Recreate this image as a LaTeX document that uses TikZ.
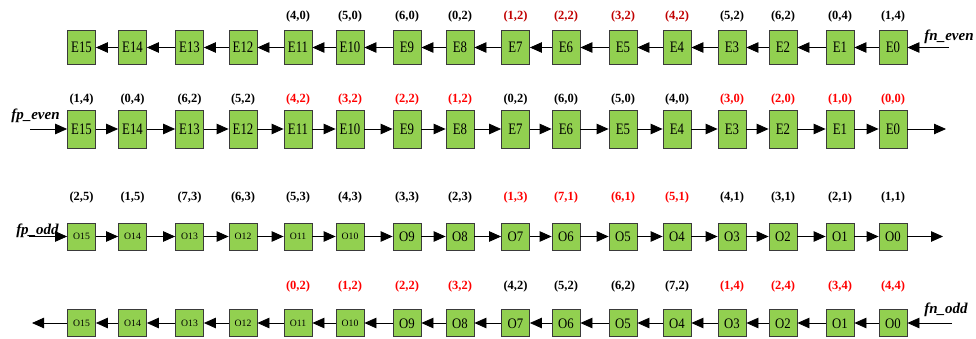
\documentclass[tikz,border=0pt]{standalone}
\usepackage{fontspec}
\setmainfont{Liberation Serif}
\usetikzlibrary{arrows.meta}
\definecolor{boxgreen}{HTML}{92D050}
\definecolor{boxline}{HTML}{3A3A3A}
\definecolor{dred}{HTML}{C00000}
\definecolor{bred}{HTML}{FF0000}
\newcommand{\etxt}[1]{\scalebox{0.8}[1]{#1}}
\newcommand{\otxt}[1]{\scalebox{0.88}[1]{#1}}
\tikzset{
  box/.style={draw=boxline, fill=boxgreen, line width=0.8pt, minimum width=28pt, inner sep=0pt},
  ebox/.style={box, minimum height=34pt, font=\fontsize{16}{16}\selectfont, text height=11pt, text depth=0pt},
  ebox2/.style={box, minimum height=38pt, font=\fontsize{16}{16}\selectfont, text height=11pt, text depth=0pt},
  obox/.style={box, minimum height=27pt, font=\fontsize{14.5}{14.5}\selectfont, text height=10pt, text depth=0pt},
  smallo/.style={font=\fontsize{9.7}{9.7}\selectfont, text height=6.7pt},
  lbl/.style={font=\fontsize{12.5}{12.5}\selectfont\bfseries, inner sep=0pt},
  sig/.style={font=\fontsize{15}{15}\selectfont\bfseries\itshape, inner sep=0pt},
  arr/.style={line width=0.8pt, -{Triangle[length=12pt,width=10.5pt]}},
}
\begin{document}
\begin{tikzpicture}[x=1pt,y=1pt]
\useasboundingbox (0,0) rectangle (976,338);
% nodes
\foreach \i/\x in {0/893,1/840,2/783,3/732,4/677,5/623,6/566,7/515.5,8/460,9/407,10/350,11/298,12/243,13/189.5,14/132.5,15/81.5}{
  \node[ebox]  (a\i) at (\x,290.5) {\etxt{E\i}};
  \node[ebox2] (b\i) at (\x,209) {\etxt{E\i}};
}
\foreach \i/\x in {0/893,1/840,2/783,3/732,4/677,5/623,6/566,7/515.5,8/460,9/407}{
  \node[obox] (c\i) at (\x,101.5) {\otxt{O\i}};
  \node[obox] (d\i) at (\x,15) {\otxt{O\i}};
}
\foreach \i/\x in {10/350,11/298,12/243,13/189.5,14/132.5,15/81.5}{
  \node[obox,smallo] (c\i) at (\x,101.5) {O\i};
  \node[obox,smallo] (d\i) at (\x,15) {O\i};
}
% labels row 1
\foreach \i/\l/\c in {0/{(1,4)}/black,1/{(0,4)}/black,2/{(6,2)}/black,3/{(5,2)}/black,4/{(4,2)}/dred,5/{(3,2)}/dred,6/{(2,2)}/dred,7/{(1,2)}/dred,8/{(0,2)}/black,9/{(6,0)}/black,10/{(5,0)}/black,11/{(4,0)}/black}{
  \node[lbl,text=\c] (la\i) at (a\i |- 0,322) {\l};
}
% labels row 2
\foreach \i/\l/\c in {0/{(0,0)}/bred,1/{(1,0)}/bred,2/{(2,0)}/bred,3/{(3,0)}/bred,4/{(4,0)}/black,5/{(5,0)}/black,6/{(6,0)}/black,7/{(0,2)}/black,8/{(1,2)}/bred,9/{(2,2)}/bred,10/{(3,2)}/bred,11/{(4,2)}/bred,12/{(5,2)}/black,13/{(6,2)}/black,14/{(0,4)}/black,15/{(1,4)}/black}{
  \node[lbl,text=\c] (lb\i) at (b\i |- 0,239) {\l};
}
% labels row 3
\foreach \i/\l/\c in {0/{(1,1)}/black,1/{(2,1)}/black,2/{(3,1)}/black,3/{(4,1)}/black,4/{(5,1)}/bred,5/{(6,1)}/bred,6/{(7,1)}/bred,7/{(1,3)}/bred,8/{(2,3)}/black,9/{(3,3)}/black,10/{(4,3)}/black,11/{(5,3)}/black,12/{(6,3)}/black,13/{(7,3)}/black,14/{(1,5)}/black,15/{(2,5)}/black}{
  \node[lbl,text=\c] (lc\i) at (c\i |- 0,141) {\l};
}
% labels row 4
\foreach \i/\l/\c in {0/{(4,4)}/bred,1/{(3,4)}/bred,2/{(2,4)}/bred,3/{(1,4)}/bred,4/{(7,2)}/black,5/{(6,2)}/black,6/{(5,2)}/black,7/{(4,2)}/black,8/{(3,2)}/bred,9/{(2,2)}/bred,10/{(1,2)}/bred,11/{(0,2)}/bred}{
  \node[lbl,text=\c] (ld\i) at (d\i |- 0,52) {\l};
}
% free ends
\coordinate (ain) at (949,290.5);
\coordinate (bin) at (30,209);
\coordinate (bout) at (946,209);
\coordinate (cin) at (29,101.5);
\coordinate (cout) at (943,101.5);
\coordinate (din) at (952,15);
\coordinate (dout) at (32,15);
% connectors
\draw[arr] (ain) -- (a0);
\draw[arr] (bin) -- (b15);
\draw[arr] (b0) -- (bout);
\draw[arr] (cin) -- (c15);
\draw[arr] (c0) -- (cout);
\draw[arr] (din) -- (d0);
\draw[arr] (d15) -- (dout);
\foreach \i [evaluate=\i as \j using int(\i+1)] in {0,...,14}{
  \draw[arr] (a\i) -- (a\j);
  \draw[arr] (b\j) -- (b\i);
  \draw[arr] (c\j) -- (c\i);
  \draw[arr] (d\i) -- (d\j);
}
% signal names
\node[sig] (fne) at (949,301) {fn\_even};
\node[sig] (fpe) at (35.5,222) {fp\_even};
\node[sig] (fpo) at (37.5,107) {fp\_odd};
\node[sig] (fno) at (946,28) {fn\_odd};
\end{tikzpicture}
\end{document}
